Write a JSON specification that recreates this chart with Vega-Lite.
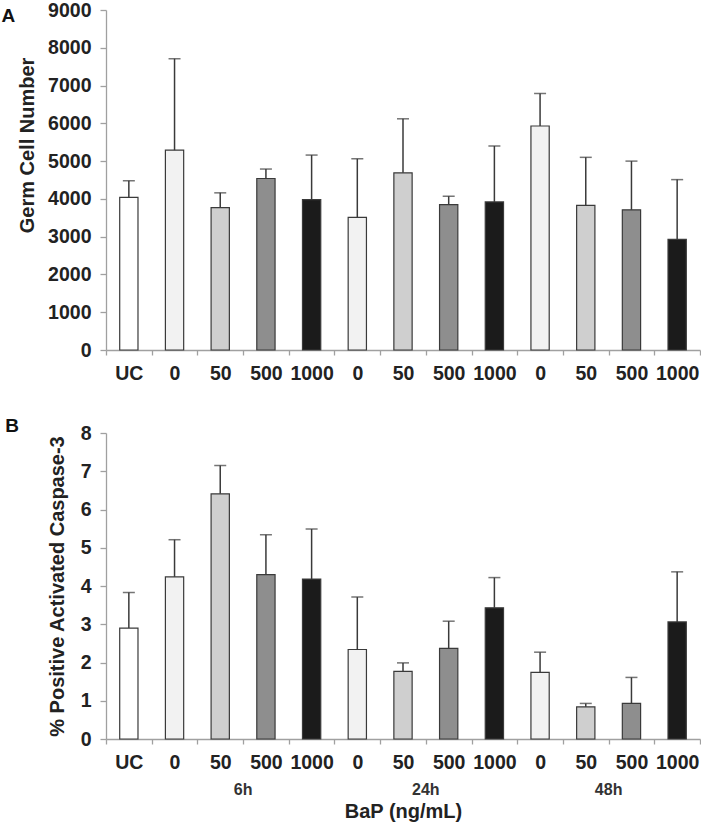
{
  "$schema": "https://vega.github.io/schema/vega-lite/v6.json",
  "background": "white",
  "padding": {"left": 1, "top": 0, "right": 0, "bottom": 0},
  "spacing": 34,
  "datasets": {
    "A": [
      {"key": "c_UC", "dose": "UC", "mean": 4040, "upper": 4480},
      {"key": "6h_0", "dose": "0", "mean": 5290, "upper": 7710},
      {"key": "6h_50", "dose": "50", "mean": 3770, "upper": 4160},
      {"key": "6h_500", "dose": "500", "mean": 4540, "upper": 4790},
      {"key": "6h_1000", "dose": "1000", "mean": 3980, "upper": 5160},
      {"key": "24h_0", "dose": "0", "mean": 3510, "upper": 5060},
      {"key": "24h_50", "dose": "50", "mean": 4690, "upper": 6120},
      {"key": "24h_500", "dose": "500", "mean": 3850, "upper": 4070},
      {"key": "24h_1000", "dose": "1000", "mean": 3920, "upper": 5400},
      {"key": "48h_0", "dose": "0", "mean": 5930, "upper": 6790},
      {"key": "48h_50", "dose": "50", "mean": 3830, "upper": 5100},
      {"key": "48h_500", "dose": "500", "mean": 3710, "upper": 5000},
      {"key": "48h_1000", "dose": "1000", "mean": 2930, "upper": 4510}
    ],
    "B": [
      {"key": "c_UC", "dose": "UC", "mean": 2.90, "upper": 3.83},
      {"key": "6h_0", "dose": "0", "mean": 4.24, "upper": 5.21},
      {"key": "6h_50", "dose": "50", "mean": 6.41, "upper": 7.15},
      {"key": "6h_500", "dose": "500", "mean": 4.30, "upper": 5.34},
      {"key": "6h_1000", "dose": "1000", "mean": 4.18, "upper": 5.49},
      {"key": "24h_0", "dose": "0", "mean": 2.34, "upper": 3.71},
      {"key": "24h_50", "dose": "50", "mean": 1.77, "upper": 1.99},
      {"key": "24h_500", "dose": "500", "mean": 2.37, "upper": 3.08},
      {"key": "24h_1000", "dose": "1000", "mean": 3.43, "upper": 4.22},
      {"key": "48h_0", "dose": "0", "mean": 1.74, "upper": 2.27},
      {"key": "48h_50", "dose": "50", "mean": 0.84, "upper": 0.93},
      {"key": "48h_500", "dose": "500", "mean": 0.93, "upper": 1.61},
      {"key": "48h_1000", "dose": "1000", "mean": 3.06, "upper": 4.37}
    ],
    "groups": [
      {"time": "6h", "key": "6h_500"},
      {"time": "24h", "key": "24h_500"},
      {"time": "48h", "key": "48h_500"}
    ]
  },
  "vconcat": [
    {
      "width": 594,
      "height": 340,
      "title": {"text": "A", "anchor": "start", "frame": "bounds", "fontSize": 19, "font": "Liberation Sans", "fontWeight": "bold", "color": "#111", "offset": 0, "dx": -16, "dy": 26},
      "data": {"name": "A"},
      "layer": [
        {
          "mark": {"type": "bar", "width": {"band": 0.4}, "stroke": "#3a3a3a", "strokeWidth": 1.2},
          "encoding": {
            "x": {"field": "key", "type": "nominal", "sort": null,
              "scale": {"domain": ["c_UC","6h_0","6h_50","6h_500","6h_1000","24h_0","24h_50","24h_500","24h_1000","48h_0","48h_50","48h_500","48h_1000"], "paddingInner": 0, "paddingOuter": 0},
              "axis": {"title": null, "labelExpr": "split(datum.label, '_')[1]"}},
            "y": {"field": "mean", "type": "quantitative", "scale": {"domain": [0, 9000], "nice": false},
              "axis": {"title": "Germ Cell Number", "values": [0,1000,2000,3000,4000,5000,6000,7000,8000,9000], "format": "d", "labelOverlap": false, "titleY": 135}},
            "color": {"field": "dose", "type": "nominal", "legend": null,
              "scale": {"domain": ["UC","0","50","500","1000"], "range": ["#ffffff","#f2f2f2","#cfcfcf","#8e8e8e","#1b1b1b"]}}
          }
        },
        {
          "mark": {"type": "rule", "color": "#3a3a3a", "strokeWidth": 1.5},
          "encoding": {
            "x": {"field": "key", "type": "nominal", "sort": null},
            "y": {"field": "mean", "type": "quantitative",
              "axis": {"title": "Germ Cell Number", "values": [0,1000,2000,3000,4000,5000,6000,7000,8000,9000], "format": "d", "labelOverlap": false, "titleY": 135}},
            "y2": {"field": "upper"}
          }
        },
        {
          "mark": {"type": "tick", "orient": "horizontal", "color": "#3a3a3a", "thickness": 1.5, "size": 12},
          "encoding": {
            "x": {"field": "key", "type": "nominal", "sort": null},
            "y": {"field": "upper", "type": "quantitative",
              "axis": {"title": "Germ Cell Number", "values": [0,1000,2000,3000,4000,5000,6000,7000,8000,9000], "format": "d", "labelOverlap": false, "titleY": 135}}
          }
        }
      ]
    },
    {
      "width": 594,
      "height": 306,
      "title": {"text": "B", "anchor": "start", "frame": "bounds", "fontSize": 19, "font": "Liberation Sans", "fontWeight": "bold", "color": "#111", "offset": 0, "dx": -42, "dy": 13},
      "layer": [
        {
          "data": {"name": "B"},
          "mark": {"type": "bar", "width": {"band": 0.4}, "stroke": "#3a3a3a", "strokeWidth": 1.2},
          "encoding": {
            "x": {"field": "key", "type": "nominal", "sort": null,
              "scale": {"domain": ["c_UC","6h_0","6h_50","6h_500","6h_1000","24h_0","24h_50","24h_500","24h_1000","48h_0","48h_50","48h_500","48h_1000"], "paddingInner": 0, "paddingOuter": 0},
              "axis": {"title": "BaP (ng/mL)", "labelExpr": "split(datum.label, '_')[1]", "titlePadding": 30}},
            "y": {"field": "mean", "type": "quantitative", "scale": {"domain": [0, 8], "nice": false},
              "axis": {"title": "% Positive Activated Caspase-3", "values": [0,1,2,3,4,5,6,7,8], "format": "d", "labelOverlap": false, "titlePadding": 13}},
            "color": {"field": "dose", "type": "nominal", "legend": null,
              "scale": {"domain": ["UC","0","50","500","1000"], "range": ["#ffffff","#f2f2f2","#cfcfcf","#8e8e8e","#1b1b1b"]}}
          }
        },
        {
          "data": {"name": "B"},
          "mark": {"type": "rule", "color": "#3a3a3a", "strokeWidth": 1.5},
          "encoding": {
            "x": {"field": "key", "type": "nominal", "sort": null},
            "y": {"field": "mean", "type": "quantitative",
              "axis": {"title": "% Positive Activated Caspase-3", "values": [0,1,2,3,4,5,6,7,8], "format": "d", "labelOverlap": false, "titlePadding": 13}},
            "y2": {"field": "upper"}
          }
        },
        {
          "data": {"name": "B"},
          "mark": {"type": "tick", "orient": "horizontal", "color": "#3a3a3a", "thickness": 1.5, "size": 12},
          "encoding": {
            "x": {"field": "key", "type": "nominal", "sort": null},
            "y": {"field": "upper", "type": "quantitative",
              "axis": {"title": "% Positive Activated Caspase-3", "values": [0,1,2,3,4,5,6,7,8], "format": "d", "labelOverlap": false, "titlePadding": 13}}
          }
        },
        {
          "data": {"name": "groups"},
          "mark": {"type": "text", "dy": 51, "fontSize": 16, "fontWeight": "bold", "font": "Liberation Sans", "color": "#333", "baseline": "middle", "align": "center"},
          "encoding": {
            "x": {"field": "key", "type": "nominal", "sort": null, "bandPosition": 0},
            "y": {"datum": 0, "type": "quantitative",
              "axis": {"title": "% Positive Activated Caspase-3", "values": [0,1,2,3,4,5,6,7,8], "format": "d", "labelOverlap": false, "titlePadding": 13}},
            "text": {"field": "time"}
          }
        }
      ]
    }
  ],
  "config": {
    "view": {"stroke": null},
    "axis": {
      "labelFont": "Liberation Sans", "labelFontWeight": "bold", "labelFontSize": 19.5, "labelColor": "#222",
      "titleFont": "Liberation Sans", "titleFontWeight": "bold", "titleFontSize": 20, "titleColor": "#222",
      "domainColor": "#a0a0a0", "tickColor": "#a0a0a0", "domainWidth": 1.3, "tickWidth": 1.3, "grid": false,
      "labelOverlap": false
    },
    "axisX": {"labelAngle": 0, "tickBand": "extent", "tickSize": 5, "labelPadding": 9},
    "axisY": {"tickSize": 6, "labelPadding": 9, "titlePadding": 10}
  }
}
